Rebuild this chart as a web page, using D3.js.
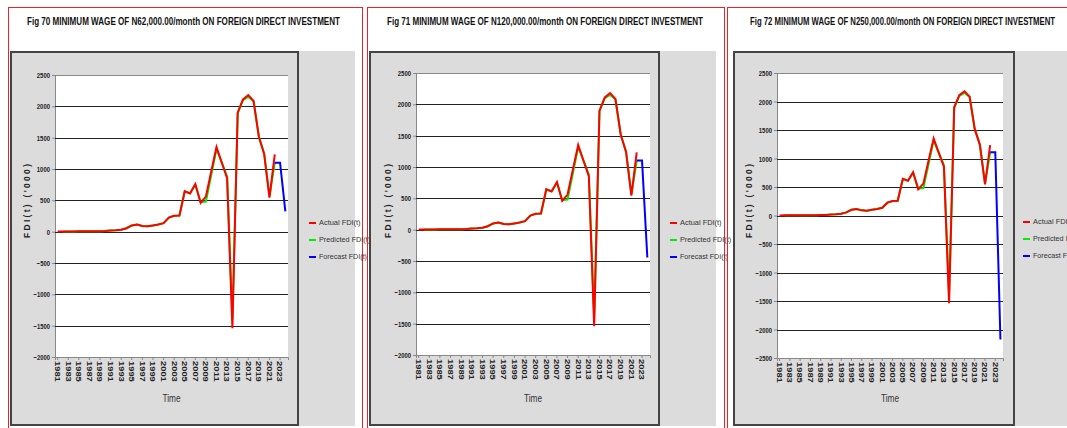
<!DOCTYPE html>
<html>
<head>
<meta charset="utf-8">
<script src="https://cdn.jsdelivr.net/npm/d3@7"></script>
<style>
  body { margin: 0; background: #fff; }
  svg { display: block; }
  text { font-family: "Liberation Sans", Arial, sans-serif; }
</style>
</head>
<body>
<script>
// years on the category axis, labels every other year
var years = d3.range(1981, 2025);
var tickYears = d3.range(1981, 2024, 2);

// actual FDI (1981 - 2022)
var actualYears = d3.range(1981, 2023);
var actual = [2, 3, 3, 4, 5, 5, 6, 6, 8, 10, 18, 22, 30, 55, 100, 115, 90, 85, 100, 115,
              135, 225, 255, 258, 645, 610, 760, 460, 560, 960, 1350, 1100, 855, -1540,
              1900, 2110, 2180, 2085, 1515, 1240, 545, 1235];

// predicted FDI (1982 - 2022)
var predictedYears = d3.range(1982, 2023);
var predicted = [3, 3, 4, 5, 5, 6, 6, 8, 10, 18, 22, 30, 55, 100, 115, 90, 85, 100, 115,
                 135, 225, 255, 258, 640, 612, 750, 470, 480, 900, 1320, 1100, 880, -1400,
                 1890, 2100, 2150, 2080, 1515, 1245, 560, 1100];

// forecast FDI for each minimum wage scenario
var forecastYears = [2022, 2023, 2024];
var forecast70 = [1100, 1100, 325];
var forecast71 = [1105, 1105, -445];
var forecast72 = [1110, 1110, -2175];

var titles = ["Fig 70  MINIMUM WAGE OF N62,000.00/month ON FOREIGN DIRECT INVESTMENT",
              "Fig 71  MINIMUM WAGE OF N120,000.00/month ON FOREIGN DIRECT INVESTMENT",
              "Fig 72  MINIMUM WAGE OF N250,000.00/month ON FOREIGN DIRECT INVESTMENT"];
var legendLabels = ["Actual FDI(t)", "Predicted FDI(t)", "Forecast FDI(t)"];
var colors = ["#ff0000", "#00ee00", "#0000ff"];

var svg = d3.select("body").append("svg")
    .attr("width", 1067)
    .attr("height", 428);

// layout of each panel
var panels = [
  {title: titles[0], forecast: forecast70, border: [8, 362], titleX: [27, 340],
   box: [10, 299], boxRight: 355, plotX: [55, 288], plotY: [75, 357], yDomain: [2500, -2000],
   legendX: 309, legendY: 223},
  {title: titles[1], forecast: forecast71, border: [367, 724], titleX: [387, 703],
   box: [369, 660], boxRight: 716, plotX: [416, 650], plotY: [73, 355], yDomain: [2500, -2000],
   legendX: 670, legendY: 223},
  {title: titles[2], forecast: forecast72, border: [727, 1080], titleX: [750, 1055],
   box: [733, 1015], boxRight: 1080, plotX: [777, 1003], plotY: [73, 358], yDomain: [2500, -2500],
   legendX: 1023, legendY: 222}
];

panels.forEach(drawPanel);

// narrow bold text: squeeze glyphs to roughly the width seen in the chart
function squeeze(sel, perChar) {
  sel.each(function() {
    var t = d3.select(this);
    var n = t.text().length;
    t.attr("textLength", n * perChar).attr("lengthAdjust", "spacingAndGlyphs");
  });
}

function drawPanel(p) {
  var g = svg.append("g");

  // red outer frame
  g.append("rect")
    .attr("x", p.border[0] + 0.5).attr("y", 7.5)
    .attr("width", p.border[1] - p.border[0]).attr("height", 440)
    .attr("fill", "none").attr("stroke", "#e8242a").attr("stroke-width", 1);

  // title
  g.append("text")
    .attr("x", p.titleX[0]).attr("y", 25)
    .attr("textLength", p.titleX[1] - p.titleX[0])
    .attr("lengthAdjust", "spacingAndGlyphs")
    .style("font-size", "11px").style("font-weight", "bold").attr("fill", "#111")
    .text(p.title);

  // gray chart area
  g.append("rect")
    .attr("x", p.box[0]).attr("y", 51)
    .attr("width", p.boxRight - p.box[0]).attr("height", 375)
    .attr("fill", "#dcdcdc");
  g.append("rect")
    .attr("x", p.box[0] + 1).attr("y", 52)
    .attr("width", p.box[1] - p.box[0] - 2).attr("height", 373)
    .attr("fill", "none").attr("stroke", "#444").attr("stroke-width", 2);

  var x = d3.scaleBand().domain(years).range(p.plotX);
  var y = d3.scaleLinear().domain(p.yDomain).range(p.plotY);
  var cx = function(yr) { return x(yr) + x.bandwidth() / 2; };

  // white plot area
  g.append("rect")
    .attr("x", p.plotX[0]).attr("y", p.plotY[0])
    .attr("width", p.plotX[1] - p.plotX[0]).attr("height", p.plotY[1] - p.plotY[0])
    .attr("fill", "#fff");

  // y axis with gridlines
  var yTicks = d3.range(p.yDomain[1], p.yDomain[0] + 1, 500);
  var yAxis = g.append("g")
    .attr("transform", "translate(" + p.plotX[0] + ",0)")
    .call(d3.axisLeft(y).tickValues(yTicks).tickSize(3).tickFormat(d3.format("d")));
  yAxis.select(".domain").attr("stroke", "#888");
  yAxis.selectAll(".tick line").attr("stroke", "#888");
  yAxis.selectAll("text")
    .style("font-size", "8px").style("font-weight", "bold").attr("fill", "#222").attr("x", -5)
    .call(squeeze, 3.3);

  g.append("g").selectAll("line")
    .data(yTicks.filter(function(d) { return d !== p.yDomain[1]; }))
    .enter().append("line")
    .attr("x1", p.plotX[0]).attr("x2", p.plotX[1])
    .attr("y1", function(d) { return Math.round(y(d)) + 0.5; })
    .attr("y2", function(d) { return Math.round(y(d)) + 0.5; })
    .attr("stroke", function(d) { return d === p.yDomain[0] ? "#888" : "#222"; })
    .attr("stroke-width", 1);

  // x axis with rotated year labels
  var xAxis = g.append("g")
    .attr("transform", "translate(0," + p.plotY[1] + ")")
    .call(d3.axisBottom(x).tickValues(tickYears).tickSize(3));
  xAxis.select(".domain").attr("stroke", "#888");
  xAxis.selectAll(".tick line").attr("stroke", "#888");
  xAxis.selectAll("text")
    .attr("transform", "rotate(90)")
    .attr("x", 4).attr("y", 0).attr("dy", "0.35em")
    .style("text-anchor", "start")
    .style("font-size", "7.5px").style("font-weight", "bold").attr("fill", "#222")
    .call(squeeze, 5.2);

  // axis titles
  var midX = (p.plotX[0] + p.plotX[1]) / 2;
  g.append("text")
    .attr("x", midX).attr("y", 402)
    .attr("text-anchor", "middle")
    .attr("textLength", 18).attr("lengthAdjust", "spacingAndGlyphs")
    .style("font-size", "11px").attr("fill", "#333")
    .text("Time");
  g.append("text")
    .attr("transform", "translate(" + (p.plotX[0] - 25) + ",201) rotate(-90)")
    .attr("text-anchor", "middle")
    .attr("textLength", 74).attr("lengthAdjust", "spacing")
    .style("font-size", "8.5px").style("font-weight", "bold").attr("fill", "#222")
    .text("FDI(t) ('000)");

  // lines
  var line = d3.line()
    .x(function(d) { return cx(d[0]); })
    .y(function(d) { return y(d[1]); });

  g.append("path")
    .datum(d3.zip(predictedYears, predicted))
    .attr("d", line).attr("fill", "none")
    .attr("stroke", colors[1]).attr("stroke-width", 2);
  g.append("path")
    .datum(d3.zip(actualYears, actual))
    .attr("d", line).attr("fill", "none")
    .attr("stroke", colors[0]).attr("stroke-width", 2);
  g.append("path")
    .datum(d3.zip(forecastYears, p.forecast))
    .attr("d", line).attr("fill", "none")
    .attr("stroke", colors[2]).attr("stroke-width", 2);

  // legend
  legendLabels.forEach(function(label, i) {
    var ly = p.legendY + i * 17;
    g.append("line")
      .attr("x1", p.legendX).attr("x2", p.legendX + 7)
      .attr("y1", ly).attr("y2", ly)
      .attr("stroke", colors[i]).attr("stroke-width", 2);
    g.append("text")
      .attr("x", p.legendX + 10).attr("y", ly).attr("dy", "0.35em")
      .attr("textLength", label.length * 3.2).attr("lengthAdjust", "spacingAndGlyphs")
      .style("font-size", "7px").attr("fill", "#333")
      .text(label);
  });
}
</script>
</body>
</html>
